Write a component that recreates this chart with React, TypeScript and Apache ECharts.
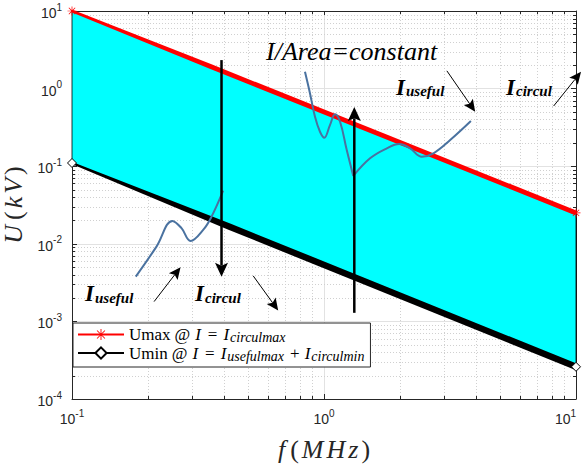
import React, { useEffect, useRef } from 'react';
import * as echarts from 'echarts';

// ---- data (log-log straight lines) ----
const freqMHz = [0.1, 1, 10];
const uMaxKV = [10, 0.5, 0.025];
const uMinKV = [0.11, 0.0054, 0.00026];

// schematic current waveforms (data coordinates)
const wave1F = [0.1791, 0.2164, 0.2505, 0.272, 0.2954, 0.3315, 0.3579, 0.398];
const wave1U = [0.00378, 0.0092, 0.0197, 0.0159, 0.0109, 0.0151, 0.0224, 0.0484];
const wave2aF = [0.8404, 0.88, 0.921, 0.964, 1.003, 1.056, 1.106, 1.158, 1.231, 1.307];
const wave2aU = [1.645, 0.867, 0.4335, 0.278, 0.233, 0.339, 0.466, 0.374, 0.1616, 0.0748];
const wave2bF = [1.307, 1.523, 1.775, 1.986, 2.196, 2.444, 2.719, 3.167, 3.827];
const wave2bU = [0.0748, 0.1264, 0.17, 0.193, 0.17, 0.1325, 0.1466, 0.2174, 0.382];

// arrows: [fStart, uStart, fTip, uTip]
const heavyArrows = [
  [0.392, 2.33, 0.392, 0.00375],
  [1.319, 0.00129, 1.319, 0.578],
];
const lightArrows = [
  [0.2117, 0.0018, 0.2696, 0.005],
  [0.5237, 0.00386, 0.658, 0.00138],
  [3.073, 1.694, 3.98, 0.503],
  [8.15, 0.596, 10.47, 1.645],
];

// axis structure
const xDecades = [0.1, 1];
const yDecades = [0.0001, 0.001, 0.01, 0.1, 1];
const minorMult = [2, 3, 4, 5, 6, 7, 8, 9];
const minorX = xDecades.flatMap((d) => minorMult.map((m) => +(d * m).toPrecision(3)));
const minorY = yDecades.flatMap((d) => minorMult.map((m) => +(d * m).toPrecision(3)));

const legendText: Record<string, string> = {
  Umax: '{r|Umax}{at|@}{ip|I}{eq|=}{i|I}{s|circulmax}',
  Umin: '{r|Umin}{at|@}{ip|I}{eq|=}{i|I}{s|usefulmax}{pl|+}{i|I}{s|circulmin}',
};

const SERIF = 'Liberation Serif, Times New Roman, serif';
const SANS = 'Liberation Sans, Arial, Helvetica, sans-serif';
const AX = '#262626';

const STAR =
  'path://M-0.08,-1L0.08,-1L0.08,1L-0.08,1Z M-1,-0.08L1,-0.08L1,0.08L-1,0.08Z M-0.764,-0.65L-0.65,-0.764L0.764,0.65L0.65,0.764Z M-0.65,0.764L-0.764,0.65L0.65,-0.764L0.764,-0.65Z';

const tickFmt = (v: number) => {
  const e = Math.round(Math.log10(v));
  return `{b|10}{e|${e}}`;
};
const labelRich = {
  b: { fontSize: 14, fontFamily: SANS, color: AX, verticalAlign: 'bottom' },
  e: { fontSize: 10, fontFamily: SANS, color: AX, verticalAlign: 'top', padding: [0, 0, 8, 0] },
};
const nameItalic = (pad: number[]) => ({
  fontSize: 26,
  fontFamily: SERIF,
  fontStyle: 'italic',
  color: AX,
  padding: pad,
});
const nameRich = {
  f: nameItalic([0, 2, 0, 0]),
  m: nameItalic([0, 3, 0, 0]),
  i: nameItalic([0, 0, 0, 0]),
  o: { fontSize: 26, fontFamily: SERIF, color: AX, padding: [0, 3, 0, 3] },
  c: { fontSize: 26, fontFamily: SERIF, color: AX, padding: [0, 0, 0, 3] },
};

function txt(x: number, baseline: number, text: string, size: number, weight: string) {
  return {
    type: 'text',
    x,
    y: baseline - 0.3375 * size,
    z: 100,
    style: {
      text,
      fontSize: size,
      fontFamily: SERIF,
      fontStyle: 'italic',
      fontWeight: weight,
      fill: '#000',
      align: 'left',
      verticalAlign: 'middle',
    },
  };
}
function iSub(x: number, baseline: number, sub: string) {
  return [txt(x, baseline, 'I', 23, 'bold'), txt(x + 10, baseline + 1.5, sub, 15, 'bold')];
}

function taperBand(api: any, us: number[], w0: number, w1: number, taper: number, color: string) {
  const n = freqMHz.length - 1;
  const a = api.coord([freqMHz[0], us[0]]);
  const b = api.coord([freqMHz[n], us[n]]);
  const dx = b[0] - a[0];
  const dy = b[1] - a[1];
  const L = Math.hypot(dx, dy);
  const ux = dx / L;
  const uy = dy / L;
  const nx = -uy;
  const ny = ux;
  const t = Math.min(taper, L);
  const m = [a[0] + ux * t, a[1] + uy * t];
  return {
    type: 'polygon',
    shape: {
      points: [
        [a[0] + nx * w0, a[1] + ny * w0],
        [m[0] + nx * w1, m[1] + ny * w1],
        [b[0] + nx * w1, b[1] + ny * w1],
        [b[0] - nx * w1, b[1] - ny * w1],
        [m[0] - nx * w1, m[1] - ny * w1],
        [a[0] - nx * w0, a[1] - ny * w0],
      ],
    },
    style: { fill: color },
  };
}

function arrowRender(lw: number, headL: number, headW: number) {
  return (params: any, api: any) => {
    const p = api.coord([api.value(0), api.value(1)]);
    const q = api.coord([api.value(2), api.value(3)]);
    const dx = q[0] - p[0];
    const dy = q[1] - p[1];
    const L = Math.hypot(dx, dy);
    const ux = dx / L;
    const uy = dy / L;
    const nx = -uy;
    const ny = ux;
    const base = [q[0] - ux * headL, q[1] - uy * headL];
    const notch = [q[0] - ux * headL * 0.8, q[1] - uy * headL * 0.8];
    return {
      type: 'group',
      children: [
        {
          type: 'line',
          shape: { x1: p[0], y1: p[1], x2: notch[0], y2: notch[1] },
          style: { stroke: '#000', lineWidth: lw },
        },
        {
          type: 'polygon',
          shape: {
            points: [
              q,
              [base[0] + (nx * headW) / 2, base[1] + (ny * headW) / 2],
              notch,
              [base[0] - (nx * headW) / 2, base[1] - (ny * headW) / 2],
            ],
          },
          style: { fill: '#000' },
        },
      ],
    };
  };
}

const boxAxis = (extra: any) => ({
  type: 'log',
  logBase: 10,
  axisLine: { show: true, onZero: false, lineStyle: { color: AX, width: 1 } },
  axisTick: { show: true, inside: true, length: 5, lineStyle: { color: AX, width: 1 } },
  axisLabel: { show: false },
  splitLine: { show: false },
  ...extra,
});

// only the end points of each line carry a visible marker; the dense marker band is drawn separately
const lineData = (us: number[]) =>
  freqMHz.map((f, i) => ({
    value: [f, us[i]],
    symbol: i === 0 || i === freqMHz.length - 1 ? undefined : 'none',
  }));

const LG = 17;
const legendRich = {
  r: { fontSize: LG, fontFamily: SERIF, color: '#000' },
  at: { fontSize: LG, fontFamily: SERIF, color: '#000', padding: [0, 0, 0, 4] },
  ip: { fontSize: LG, fontFamily: SERIF, fontStyle: 'italic', color: '#000', padding: [0, 0, 0, 5] },
  eq: { fontSize: LG, fontFamily: SERIF, color: '#000', padding: [0, 6, 0, 7] },
  pl: { fontSize: LG, fontFamily: SERIF, color: '#000', padding: [0, 5, 0, 6] },
  i: { fontSize: LG, fontFamily: SERIF, fontStyle: 'italic', color: '#000' },
  s: {
    fontSize: 14,
    fontFamily: SERIF,
    fontStyle: 'italic',
    color: '#000',
    verticalAlign: 'bottom',
    padding: [6, 0, 0, 1],
  },
};

export default function App() {
  const ref = useRef<HTMLDivElement>(null);
  useEffect(() => {
    document.body.style.margin = '0';
    const chart = echarts.init(ref.current as HTMLDivElement, null, { renderer: 'svg' });
    const option: any = {
      animation: false,
      backgroundColor: '#fff',
      textStyle: { fontFamily: SERIF },
      grid: {
        left: 72,
        right: 9,
        top: 11,
        bottom: 66,
        containLabel: false,
        outerBoundsMode: 'none',
      },
      legend: {
        data: ['Umax', 'Umin'],
        orient: 'vertical',
        left: 73,
        top: 323,
        itemWidth: 46,
        itemHeight: 14,
        itemGap: 0,
        padding: [3, 6, 4, 4],
        backgroundColor: '#fff',
        borderColor: AX,
        borderWidth: 1,
        borderRadius: 0,
        selectedMode: false,
        formatter: (n: string) => legendText[n],
        textStyle: { fontFamily: SERIF, rich: legendRich },
      },
      xAxis: [
        boxAxis({
          min: 0.1,
          max: 10,
          position: 'bottom',
          axisLabel: {
            show: true,
            formatter: tickFmt,
            margin: 9,
            rich: labelRich,
            showMinLabel: true,
            showMaxLabel: true,
            alignMaxLabel: 'right',
          },
          splitLine: { show: true, lineStyle: { color: '#e2e2e2', width: 1 } },
          name: '{f|f}{o|(}{m|M}{m|H}{i|z}{c|)}',
          nameLocation: 'middle',
          nameGap: 37,
          nameTextStyle: { rich: nameRich },
        }),
        boxAxis({ min: 0.1, max: 10, position: 'top' }),
      ],
      yAxis: [
        boxAxis({
          min: 0.0001,
          max: 10,
          position: 'left',
          axisLabel: {
            show: true,
            formatter: tickFmt,
            margin: 10,
            rich: labelRich,
            showMinLabel: true,
            showMaxLabel: true,
          },
          splitLine: { show: true, lineStyle: { color: '#e2e2e2', width: 1 } },
          name: '{f|U}{o|(}{m|k}{i|V}{c|)}',
          nameLocation: 'middle',
          nameGap: 46,
          nameTextStyle: { rich: nameRich },
        }),
        boxAxis({ min: 0.0001, max: 10, position: 'right' }),
      ],
      series: [
        {
          type: 'custom',
          name: 'minorGrid',
          z: 1,
          silent: true,
          data: [[1, 1]],
          renderItem: (params: any, api: any) => {
            const cs = params.coordSys;
            const x0 = cs.x;
            const y0 = cs.y;
            const x1 = cs.x + cs.width;
            const y1 = cs.y + cs.height;
            const children: any[] = [];
            const grid = { stroke: '#d0d0d0', lineWidth: 1, lineDash: [1, 2] };
            const tick = { stroke: AX, lineWidth: 1 };
            minorX.forEach((v) => {
              const x = Math.round(api.coord([v, 1])[0]) + 0.5;
              children.push({ type: 'line', shape: { x1: x, y1: y0, x2: x, y2: y1 }, style: grid });
              children.push({ type: 'line', shape: { x1: x, y1: y1, x2: x, y2: y1 - 3 }, style: tick });
              children.push({ type: 'line', shape: { x1: x, y1: y0, x2: x, y2: y0 + 3 }, style: tick });
            });
            minorY.forEach((v) => {
              const y = Math.round(api.coord([1, v])[1]) + 0.5;
              children.push({ type: 'line', shape: { x1: x0, y1: y, x2: x1, y2: y }, style: grid });
              children.push({ type: 'line', shape: { x1: x0, y1: y, x2: x0 + 3, y2: y }, style: tick });
              children.push({ type: 'line', shape: { x1: x1, y1: y, x2: x1 - 3, y2: y }, style: tick });
            });
            return { type: 'group', children };
          },
        },
        {
          type: 'custom',
          name: 'fill',
          z: 2,
          silent: true,
          data: [[1, 1]],
          renderItem: (params: any, api: any) => {
            const top = freqMHz.map((f, i) => api.coord([f, uMaxKV[i]]));
            const bot = freqMHz.map((f, i) => api.coord([f, uMinKV[i]])).reverse();
            return {
              type: 'polygon',
              shape: { points: top.concat(bot) },
              style: { fill: '#00ffff', stroke: '#000', lineWidth: 0.8 },
            };
          },
        },
        {
          type: 'custom',
          name: 'markerBands',
          z: 3,
          silent: true,
          data: [[1, 1]],
          renderItem: (params: any, api: any) => ({
            type: 'group',
            children: [
              taperBand(api, uMaxKV, 1.4, 2.4, 150, '#ff0000'),
              taperBand(api, uMinKV, 1.0, 3.2, 170, '#000000'),
            ],
          }),
        },
        {
          type: 'line',
          name: 'Umax',
          z: 4,
          clip: false,
          data: lineData(uMaxKV),
          symbol: STAR,
          symbolSize: 9,
          showAllSymbol: true,
          lineStyle: { color: '#ff0000', width: 1 },
          itemStyle: { color: '#ff0000' },
          silent: true,
        },
        {
          type: 'line',
          name: 'Umin',
          z: 4,
          clip: false,
          data: lineData(uMinKV),
          symbol: 'diamond',
          symbolSize: 9,
          showAllSymbol: true,
          lineStyle: { color: '#000', width: 1 },
          itemStyle: { color: '#fff', borderColor: '#000', borderWidth: 1 },
          silent: true,
        },
        ...[
          [wave1F, wave1U],
          [wave2aF, wave2aU],
          [wave2bF, wave2bU],
        ].map(([fs, us]) => ({
          type: 'line',
          z: 5,
          smooth: 0.4,
          symbol: 'none',
          silent: true,
          clip: false,
          data: fs.map((f, i) => [f, us[i]]),
          lineStyle: { color: '#4a72a0', width: 2 },
        })),
        {
          type: 'custom',
          name: 'heavyArrows',
          z: 6,
          silent: true,
          data: heavyArrows,
          renderItem: arrowRender(2.5, 14, 13),
        },
        {
          type: 'custom',
          name: 'lightArrows',
          z: 6,
          silent: true,
          data: lightArrows,
          renderItem: arrowRender(1, 12, 11),
        },
      ],
      graphic: [
        txt(266, 60, 'I/Area=constant', 26, 'normal'),
        ...iSub(396, 95, 'useful'),
        ...iSub(506, 95, 'circul'),
        ...iSub(85, 301.5, 'useful'),
        ...iSub(195, 301.5, 'circul'),
      ],
    };
    chart.setOption(option);
    return () => chart.dispose();
  }, []);
  return <div ref={ref} style={{ width: 585, height: 465 }} />;
}
